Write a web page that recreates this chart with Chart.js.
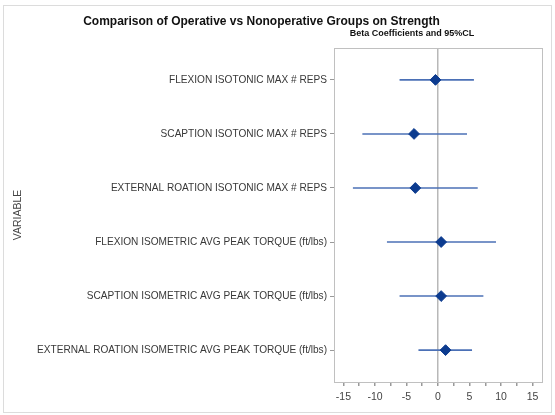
<!DOCTYPE html>
<html>
<head>
<meta charset="utf-8">
<script src="https://cdn.jsdelivr.net/npm/chart.js@4.4.1/dist/chart.umd.min.js"></script>
<style>
  html, body { margin: 0; padding: 0; background: #fff; }
  canvas { display: block; }
</style>
</head>
<body>
<canvas id="c" width="555" height="415"></canvas>
<script>
const titleText = "Comparison of Operative vs Nonoperative Groups on Strength";
const subtitleText = "Beta Coefficients and 95%CL";
const yAxisTitle = "VARIABLE";
const categories = [
  "FLEXION ISOTONIC MAX # REPS",
  "SCAPTION ISOTONIC MAX # REPS",
  "EXTERNAL ROATION ISOTONIC MAX # REPS",
  "FLEXION ISOMETRIC AVG PEAK TORQUE (ft/lbs)",
  "SCAPTION ISOMETRIC AVG PEAK TORQUE (ft/lbs)",
  "EXTERNAL ROATION ISOMETRIC AVG PEAK TORQUE (ft/lbs)"
];
const estimates = [-0.4, -3.8, -3.6, 0.5, 0.5, 1.2];
const lowerCL = [-6.1, -12.0, -13.5, -8.1, -6.1, -3.1];
const upperCL = [5.7, 4.6, 6.3, 9.2, 7.2, 5.4];
const xTicks = [-15, -12.5, -10, -7.5, -5, -2.5, 0, 2.5, 5, 7.5, 10, 12.5, 15];
const xLabelled = [-15, -10, -5, 0, 5, 10, 15];

const FONT = "'Liberation Sans', Arial, Helvetica, sans-serif";
const rowPos = categories.map((_, i) => i + 1);

const ciDatasets = categories.map((c, i) => ({
  label: c + " CL",
  data: [{x: lowerCL[i], y: rowPos[i]}, {x: upperCL[i], y: rowPos[i]}],
  showLine: true,
  borderColor: '#4b70b6',
  borderWidth: 1.6,
  pointRadius: 0,
  order: 2
}));

const estDataset = {
  label: 'Estimate',
  data: estimates.map((v, i) => ({x: v, y: rowPos[i]})),
  pointStyle: 'rectRot',
  pointRadius: 5.4,
  backgroundColor: '#0c3b8f',
  borderColor: '#0c3b8f',
  borderWidth: 1,
  showLine: false,
  order: 0
};

const decor = {
  id: 'decor',
  beforeDraw(chart) {
    const ctx = chart.ctx;
    ctx.save();
    ctx.fillStyle = '#fff';
    ctx.fillRect(0, 0, chart.width, chart.height);
    ctx.strokeStyle = '#dcdcdc';
    ctx.lineWidth = 1;
    ctx.strokeRect(3.5, 5.5, 548, 407);
    ctx.restore();
  },
  afterDraw(chart) {
    const ctx = chart.ctx;
    const a = chart.chartArea;
    ctx.save();
    ctx.strokeStyle = '#c0c0c0';
    ctx.lineWidth = 1;
    ctx.strokeRect(Math.round(a.left) + 0.5, Math.round(a.top) + 0.5, Math.round(a.right - a.left), Math.round(a.bottom - a.top));
    ctx.fillStyle = '#111';
    ctx.textAlign = 'center';
    ctx.textBaseline = 'middle';
    ctx.font = "bold 12px " + FONT;
    ctx.fillText(titleText, 261.5, 22);
    ctx.font = "bold 9px " + FONT;
    ctx.fillText(subtitleText, 412, 34);
    ctx.restore();
  }
};

new Chart(document.getElementById('c'), {
  type: 'scatter',
  data: { datasets: [estDataset, ...ciDatasets] },
  options: {
    responsive: false,
    animation: false,
    layout: { padding: { left: 0, right: 13, top: 48, bottom: 0 } },
    plugins: { legend: { display: false }, tooltip: { enabled: false }, title: { display: false } },
    scales: {
      x: {
        type: 'linear',
        min: -16.5,
        max: 16.5,
        afterBuildTicks(scale) { scale.ticks = xTicks.map(v => ({ value: v })); },
        afterFit(scale) { scale.height = 415 - 382 - 0; },
        ticks: {
          autoSkip: false,
          maxRotation: 0,
          padding: 5,
          color: '#444',
          font: { family: FONT, size: 10.5 },
          callback(v) { return xLabelled.includes(v) ? String(v) : ''; }
        },
        grid: {
          drawOnChartArea: true,
          drawTicks: true,
          tickLength: 4,
          tickColor: '#999',
          lineWidth: 1.5,
          color(ctx) { return ctx.tick && ctx.tick.value === 0 ? '#b8b8b8' : 'rgba(0,0,0,0)'; }
        },
        border: { display: true, color: '#c0c0c0' }
      },
      y: {
        type: 'linear',
        reverse: true,
        min: 0.41,
        max: 6.59,
        afterBuildTicks(scale) { scale.ticks = rowPos.map(v => ({ value: v })); },
        afterFit(scale) { scale.width = 334; },
        ticks: {
          autoSkip: false,
          padding: 3,
          color: '#383838',
          font: { family: FONT, size: 10.1 },
          callback(v) { return categories[Math.round(v) - 1]; }
        },
        grid: { drawOnChartArea: false, drawTicks: true, tickLength: 4, tickColor: '#999' },
        border: { display: true, color: '#c0c0c0' },
        title: {
          display: true,
          text: yAxisTitle,
          color: '#444',
          font: { family: FONT, size: 10.5 },
          padding: { top: 12, bottom: 0 }
        }
      }
    }
  },
  plugins: [decor]
});
</script>
</body>
</html>
